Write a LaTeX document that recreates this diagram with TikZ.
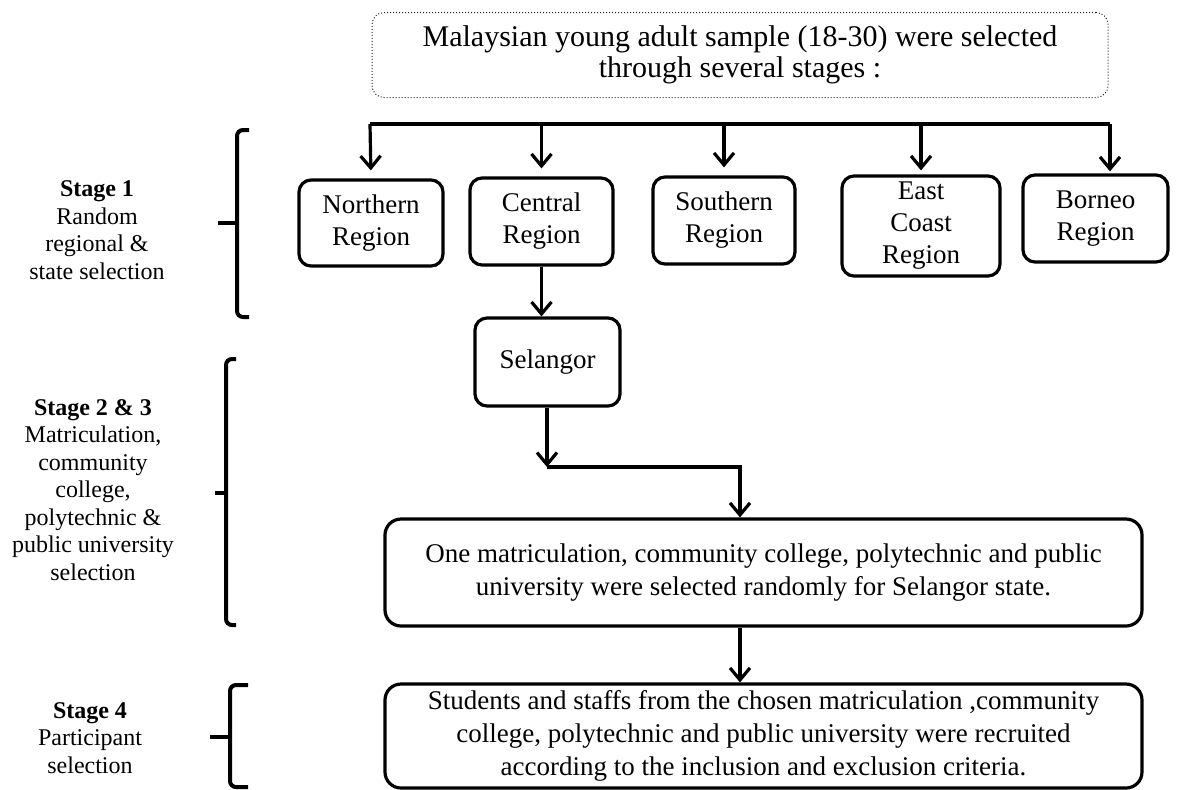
\documentclass[tikz,border=0pt]{standalone}
\usepackage{fontspec}
\setmainfont{Liberation Serif}
\usetikzlibrary{arrows.meta}

\tikzset{
  regionbox/.style={draw, line width=1.6pt, rounded corners=6pt, align=center,
    inner sep=1pt, font=\fontsize{13.5}{16}\selectfont},
  widebox/.style={draw, line width=1.6pt, rounded corners=8pt, align=center,
    inner sep=1pt, minimum width=378.5pt, font=\fontsize{13.5}{16.5}\selectfont},
  stagelabel/.style={align=center, font=\fontsize{12}{13.75}\selectfont},
  brace/.style={line width=2pt, rounded corners=3pt},
  link/.style={line width=1.6pt},
  arr/.style={line width=1.6pt, -{Straight Barb[length=6pt,width=10pt,line width=1.6pt]}}
}

\begin{document}
\begin{tikzpicture}[x=0.5pt, y=-0.5pt]
            \useasboundingbox (0,0) rectangle (1178,789);

            % title box
            \node[draw=black!85, densely dotted, line width=0.5pt, rounded corners=6pt, minimum width=368pt, minimum height=42.5pt,
                  align=center, font=\fontsize{15}{15.5}\selectfont] (title) at (740,55)
                 {Malaysian young adult sample (18-30) were selected\\through several stages :};

            % stage 1
            \node[regionbox, minimum width=72pt, minimum height=43pt] (north) at (371,223) {Northern\\Region};
            \node[regionbox, minimum width=71.5pt, minimum height=43.5pt] (central) at (541.5,221.5) {Central\\Region};
            \node[regionbox, minimum width=71pt, minimum height=43.5pt] (south) at (724,220.5) {Southern\\Region};
            \node[regionbox, minimum width=79pt, minimum height=50pt] (east) at (921,226) {East\\Coast\\Region};
            \node[regionbox, minimum width=72.5pt, minimum height=43.5pt] (borneo) at (1095.5,218.5) {Borneo\\Region};

            \coordinate (barL) at (370,124);
            \coordinate (barR) at (1110,124);
            \draw[link] (barL) -- (barR);
            \draw[arr, shorten >=4pt] (barL) -- (north.north);
            \draw[arr, shorten >=4pt] (central.north |- barL) -- (central.north);
            \draw[arr, shorten >=4pt] (south.north |- barL) -- (south.north);
            \draw[arr, shorten >=2pt] (east.north |- barL) -- (east.north);
            \draw[arr, shorten >=1pt] (barR) -- (barR |- borneo.north);

            % stage 2 & 3
            \node[regionbox, minimum width=72.5pt, minimum height=44pt] (selangor) at (547.5,362) {Selangor};
            \draw[arr] (central.south) -- (central.south |- selangor.north);

            \node[widebox, minimum height=53.5pt] (onebox) at (763.5,572.5)
                 {One matriculation, community college, polytechnic and public\\university were selected randomly for Selangor state.};

            \coordinate (bend) at (547,467);
            \coordinate (drop) at (740,467);
            \draw[arr] (selangor.south -| bend) -- (bend);
            \draw[arr] (bend) -- (drop) -- (drop |- onebox.north);

            % stage 4
            \node[widebox, minimum height=52pt] (staffbox) at (763.5,736)
                 {Students and staffs from the chosen matriculation ,community\\college, polytechnic and public university were recruited\\according to the inclusion and exclusion criteria.};
            \draw[arr] (onebox.south -| drop) -- (staffbox.north -| drop);

            % stage labels with brackets
            \node[stagelabel] (s1) at (97,230) {\textbf{Stage 1}\\Random\\regional \&\\state selection};
            \node[stagelabel] (s23) at (93,490) {\textbf{Stage 2 \& 3}\\Matriculation,\\community\\college,\\polytechnic \&\\public university\\selection};
            \node[stagelabel] (s4) at (90,738) {\textbf{Stage 4}\\Participant\\selection};

            \draw[brace] (249,130) -- (237,130) -- (237,317) -- (249,317);
            \draw[brace] (218,223) -- (237,223);
            \draw[brace] (236,359) -- (226,359) -- (226,625) -- (236,625);
            \draw[brace] (215,493) -- (226,493);
            \draw[brace] (248,685) -- (230,685) -- (230,787) -- (248,787);
            \draw[brace] (210,737) -- (230,737);
        \end{tikzpicture}
\end{document}
